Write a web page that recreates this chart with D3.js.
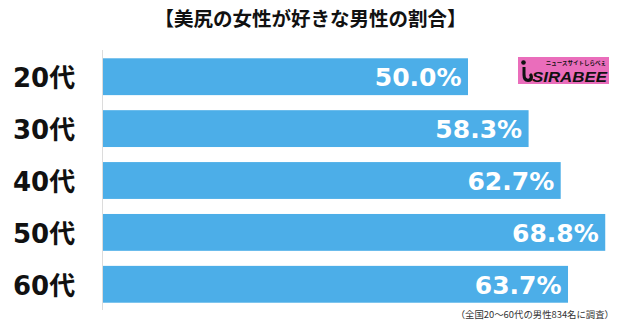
<!DOCTYPE html>
<html>
<head>
<meta charset="utf-8">
<script src="https://cdn.jsdelivr.net/npm/d3@7"></script>
<style>
  html, body { margin: 0; padding: 0; background: #ffffff; }
  svg { display: block; }
</style>
</head>
<body>
<svg id="chart" width="621" height="323"></svg>
<script>
// Chart data
const title = "【美尻の女性が好きな男性の割合】";
const categories = ["20代", "30代", "40代", "50代", "60代"];
const values = [50.0, 58.3, 62.7, 68.8, 63.7];
const footnote = "（全国20～60代の男性834名に調査）";

const svg = d3.select("#chart");
const W = 621, H = 323;

const x = d3.scaleLinear().domain([0, 100]).range([103, 833]);
const y = d3.scaleBand()
  .domain(categories)
  .range([50.5, 310.5])
  .paddingInner(0.29)
  .paddingOuter(0.15);

const barColor = "#4caee8";
const latin = "'DejaVu Sans', 'Noto Sans CJK JP', sans-serif";
const cjk = "'Noto Sans CJK JP', 'Noto Sans CJK SC', sans-serif";

// Title
svg.append("text")
  .attr("x", W / 2)
  .attr("y", 26)
  .attr("text-anchor", "middle")
  .attr("font-family", cjk)
  .attr("font-weight", 700)
  .attr("font-size", 19.5)
  .attr("fill", "#111")
  .text(title);

// Baseline axis line
svg.append("line")
  .attr("x1", 102.5).attr("x2", 102.5)
  .attr("y1", 50).attr("y2", 310)
  .attr("stroke", "#dcdcdc")
  .attr("stroke-width", 1);

// Bars
svg.append("g").selectAll("rect")
  .data(values)
  .join("rect")
  .attr("x", x(0))
  .attr("y", (d, i) => y(categories[i]))
  .attr("width", d => x(d) - x(0))
  .attr("height", y.bandwidth())
  .attr("fill", barColor);

// Value labels inside bars
svg.append("g").selectAll("text")
  .data(values)
  .join("text")
  .attr("x", d => x(d) - 6.5)
  .attr("y", (d, i) => y(categories[i]) + y.bandwidth() / 2 + 9.5)
  .attr("text-anchor", "end")
  .attr("font-family", latin)
  .attr("font-weight", 700)
  .attr("font-size", 25)
  .attr("fill", "#ffffff")
  .text(d => d.toFixed(1) + "%");

// Category labels
svg.append("g").selectAll("text")
  .data(categories)
  .join("text")
  .attr("x", 13)
  .attr("y", d => y(d) + y.bandwidth() / 2 + 10.5)
  .attr("font-family", latin)
  .attr("font-weight", 700)
  .attr("font-size", 26)
  .attr("fill", "#111")
  .text(d => d);

// Footnote
svg.append("text")
  .attr("x", 614)
  .attr("y", 317.5)
  .attr("text-anchor", "end")
  .attr("font-family", cjk)
  .attr("font-size", 9.4)
  .attr("fill", "#333")
  .text(footnote);

// Brand badge
const logo = svg.append("g");
logo.append("rect")
  .attr("x", 518).attr("y", 57)
  .attr("width", 91).attr("height", 27)
  .attr("fill", "#ea6dbb");
logo.append("circle")
  .attr("cx", 523.5).attr("cy", 62.5).attr("r", 2.3)
  .attr("fill", "#111");
logo.append("path")
  .attr("d", "M522.5,67 L522.5,75 Q522.5,82 528,82 Q533,82 533,77 Q533,74 531,73 L529,75 Q530,76 529.5,78 Q528,79.5 526.5,78 Q525.5,77 525.5,74 L525.5,67 Z")
  .attr("fill", "#111");
logo.append("text")
  .attr("x", 532)
  .attr("y", 82)
  .attr("font-family", "'Liberation Sans', Arial, sans-serif")
  .attr("font-weight", 700)
  .attr("font-style", "italic")
  .attr("font-size", 15)
  .attr("textLength", 75)
  .attr("lengthAdjust", "spacingAndGlyphs")
  .attr("fill", "#111")
  .text("SIRABEE");
logo.append("text")
  .attr("x", 606)
  .attr("y", 65)
  .attr("text-anchor", "end")
  .attr("font-family", cjk)
  .attr("font-weight", 700)
  .attr("font-size", 5.5)
  .attr("fill", "#111")
  .text("ニュースサイトしらべぇ");
</script>
</body>
</html>
